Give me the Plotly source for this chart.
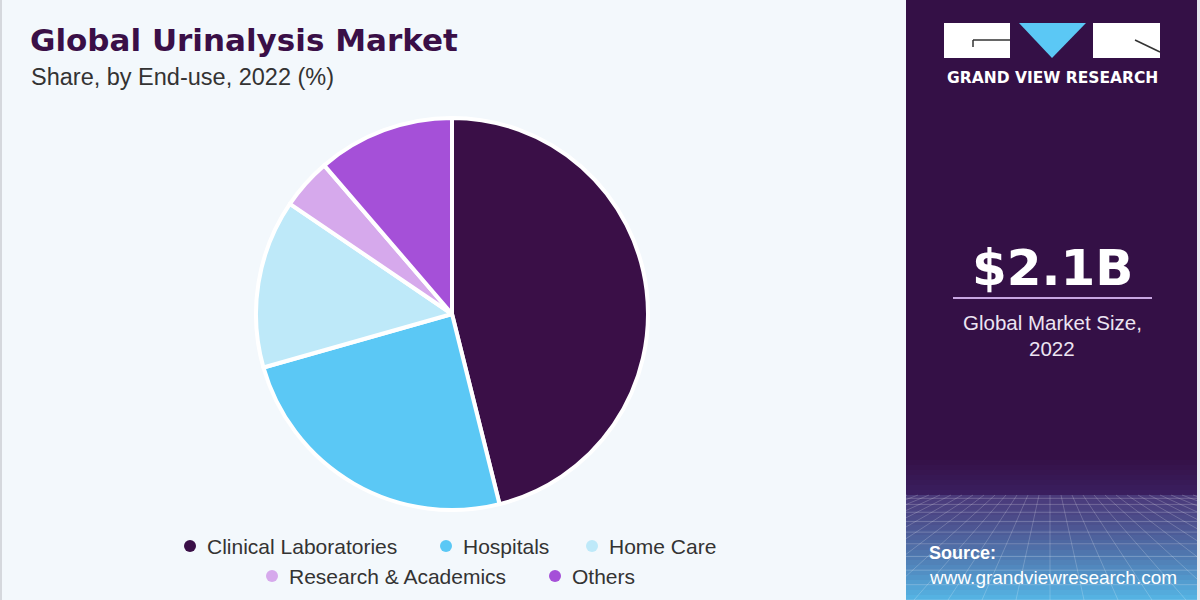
import plotly.graph_objects as go

# data
labels = ["Clinical Laboratories", "Hospitals", "Home Care", "Research & Academics", "Others"]
shares = [46.1, 24.5, 13.9, 4.2, 11.3]
colors = ["#3A0F47", "#5BC8F5", "#BEE9F9", "#D6A9EC", "#A550D8"]
market_size = "$2.1B"
market_year = "2022"

W, H = 1200, 600
BG = "#F3F8FC"
PANEL = "#341046"


def px(x):
    return x / W


def py(y):
    return 1 - y / H


fig = go.Figure()

# pie centred at (452, 314), radius ~196
fig.add_trace(go.Pie(
    labels=labels,
    values=shares,
    sort=False,
    direction="clockwise",
    rotation=0,
    marker=dict(colors=colors, line=dict(color="white", width=4)),
    textinfo="none",
    hoverinfo="label+percent",
    showlegend=False,
    domain=dict(x=[px(452 - 196), px(452 + 196)], y=[py(510), py(118)]),
))

shapes = []
annotations = []

# right panel
shapes.append(dict(type="rect", xref="paper", yref="paper", x0=px(906), x1=1, y0=0, y1=1,
                   fillcolor=PANEL, line=dict(width=0), layer="below"))

# gradient at panel bottom
def mix(c1, c2, t):
    a = [int(c1[i:i + 2], 16) for i in (1, 3, 5)]
    b = [int(c2[i:i + 2], 16) for i in (1, 3, 5)]
    return "rgb(%d,%d,%d)" % tuple(round(a[k] + (b[k] - a[k]) * t) for k in range(3))

# soft band above the horizon
for i in range(8):
    y0 = 455 + i * 5
    shapes.append(dict(type="rect", xref="paper", yref="paper", x0=px(906), x1=px(1197),
                       y0=py(y0 + 5), y1=py(y0), fillcolor=mix(PANEL, "#3A1E5E", i / 7),
                       line=dict(width=0), layer="below"))
g0, g1 = 495, 600
steps = 21
for i in range(steps):
    y0 = g0 + (g1 - g0) * i / steps
    y1 = g0 + (g1 - g0) * (i + 1) / steps
    t = i / (steps - 1)
    shapes.append(dict(type="rect", xref="paper", yref="paper", x0=px(906), x1=px(1197),
                       y0=py(y1), y1=py(y0), fillcolor=mix("#4A3A7A", "#55B2E2", t ** 1.2),
                       line=dict(width=0), layer="below"))

# faint perspective grid
hy = 495
for k in range(10):
    yy = hy + (600 - hy) * ((k + 1) / 10) ** 1.5
    shapes.append(dict(type="line", xref="paper", yref="paper", x0=px(906), x1=px(1197),
                       y0=py(yy), y1=py(yy), line=dict(color="rgba(255,255,255,0.22)", width=1),
                       layer="below"))
vx = 1050
for k in range(-14, 15):
    xb = vx + k * 34
    shapes.append(dict(type="line", xref="paper", yref="paper", x0=px(vx + k * 11), x1=px(xb),
                       y0=py(hy), y1=py(600), line=dict(color="rgba(255,255,255,0.2)", width=1),
                       layer="below"))
# cover grid overflow outside the panel
shapes.append(dict(type="rect", xref="paper", yref="paper", x0=0, x1=px(906), y0=0, y1=1,
                   fillcolor=BG, line=dict(width=0), layer="below"))
shapes.append(dict(type="rect", xref="paper", yref="paper", x0=px(1197), x1=1, y0=0, y1=1,
                   fillcolor="#E6E9EE", line=dict(width=0), layer="below"))
# left edge border
shapes.append(dict(type="rect", xref="paper", yref="paper", x0=0, x1=px(2), y0=0, y1=1,
                   fillcolor="#D5D8DD", line=dict(width=0), layer="below"))

# logo
shapes.append(dict(type="rect", xref="paper", yref="paper", x0=px(944), x1=px(1010),
                   y0=py(58), y1=py(23), fillcolor="white", line=dict(width=0)))
shapes.append(dict(type="path", xref="paper", yref="paper",
                   path="M %f %f L %f %f L %f %f Z" % (px(1019), py(23), px(1086), py(23), px(1052), py(58)),
                   fillcolor="#5BC8F5", line=dict(width=0)))
shapes.append(dict(type="rect", xref="paper", yref="paper", x0=px(1093), x1=px(1160),
                   y0=py(58), y1=py(23), fillcolor="white", line=dict(width=0)))
shapes.append(dict(type="line", xref="paper", yref="paper", x0=px(973), x1=px(1010),
                   y0=py(40), y1=py(40), line=dict(color="#333333", width=1.5)))
shapes.append(dict(type="line", xref="paper", yref="paper", x0=px(973), x1=px(973),
                   y0=py(40), y1=py(47), line=dict(color="#333333", width=1.5)))
shapes.append(dict(type="line", xref="paper", yref="paper", x0=px(1135), x1=px(1160),
                   y0=py(40), y1=py(52), line=dict(color="#333333", width=1.5)))
annotations.append(dict(x=px(1052), y=py(78), xref="paper", yref="paper", showarrow=False,
                        text="<b>GRAND VIEW RESEARCH</b>", xanchor="center", yanchor="middle",
                        font=dict(family="DejaVu Sans", size=15.5, color="white")))

# market size block
annotations.append(dict(x=px(1052), y=py(268), xref="paper", yref="paper", showarrow=False,
                        text="<b>" + market_size + "</b>", xanchor="center", yanchor="middle",
                        font=dict(family="DejaVu Sans", size=50, color="white")))
shapes.append(dict(type="line", xref="paper", yref="paper", x0=px(953), x1=px(1152),
                   y0=py(298), y1=py(298), line=dict(color="#C8A6E2", width=2)))
annotations.append(dict(x=px(1052), y=py(322), xref="paper", yref="paper", showarrow=False,
                        text="Global Market Size,", xanchor="center", yanchor="middle",
                        font=dict(family="Liberation Sans", size=20.5, color="#ECE4F2")))
annotations.append(dict(x=px(1052), y=py(348), xref="paper", yref="paper", showarrow=False,
                        text=market_year, xanchor="center", yanchor="middle",
                        font=dict(family="Liberation Sans", size=20.5, color="#ECE4F2")))

# source
annotations.append(dict(x=px(927), y=py(553), xref="paper", yref="paper", showarrow=False,
                        text="<b>Source:</b>", xanchor="left", yanchor="middle",
                        font=dict(family="Liberation Sans", size=18, color="white")))
annotations.append(dict(x=px(927), y=py(577), xref="paper", yref="paper", showarrow=False,
                        text="www.grandviewresearch.com", xanchor="left", yanchor="middle",
                        font=dict(family="Liberation Sans", size=19, color="white")))

# titles
annotations.append(dict(x=px(28), y=py(40), xref="paper", yref="paper", showarrow=False,
                        text="<b>Global Urinalysis Market</b>", xanchor="left", yanchor="middle",
                        font=dict(family="DejaVu Sans", size=31, color="#3A0F47")))
annotations.append(dict(x=px(29), y=py(77), xref="paper", yref="paper", showarrow=False,
                        text="Share, by End-use, 2022 (%)", xanchor="left", yanchor="middle",
                        font=dict(family="Liberation Sans", size=23.5, color="#333333")))

# legend (two centred rows)
legend_pos = [(190, 546), (446, 546), (592, 546), (272, 576), (555, 576)]
for lab, col, (lx, ly) in zip(labels, colors, legend_pos):
    shapes.append(dict(type="circle", xref="paper", yref="paper",
                       x0=px(lx - 6), x1=px(lx + 6), y0=py(ly + 6), y1=py(ly - 6),
                       fillcolor=col, line=dict(width=0)))
    annotations.append(dict(x=px(lx + 15), y=py(ly), xref="paper", yref="paper", showarrow=False,
                            text=lab, xanchor="left", yanchor="middle",
                            font=dict(family="Liberation Sans", size=21, color="#333333")))

fig.update_layout(
    width=W, height=H,
    margin=dict(l=0, r=0, t=0, b=0),
    paper_bgcolor=BG,
    plot_bgcolor=BG,
    shapes=shapes,
    annotations=annotations,
)

# drop the browser's default page margin so the figure sits at the window origin
fig.write_html("out.html", config={"displayModeBar": False},
               post_script="document.body.style.margin='0';")
